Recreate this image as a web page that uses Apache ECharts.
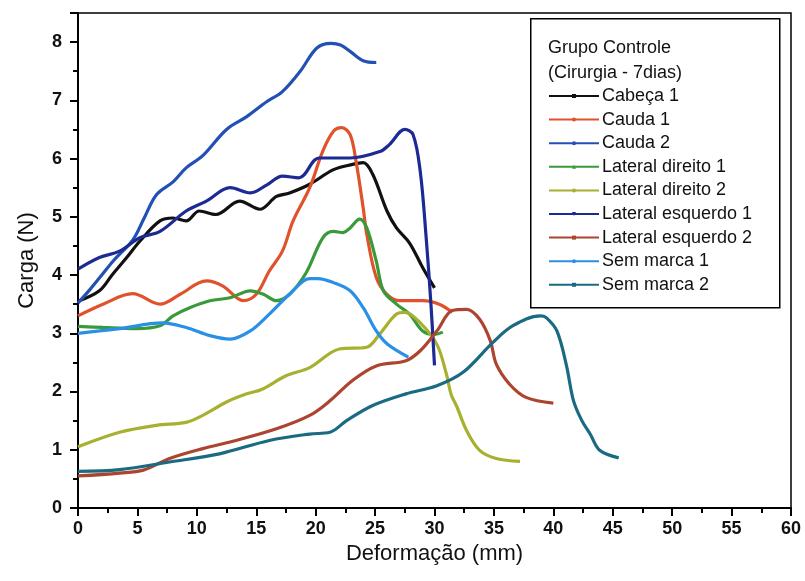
<!DOCTYPE html>
<html>
<head>
<meta charset="utf-8">
<script src="https://cdn.jsdelivr.net/npm/echarts@6/dist/echarts.min.js"></script>
<style>
  html, body { margin: 0; padding: 0; background: #fff; }
  #chart { width: 805px; height: 581px; }
</style>
</head>
<body>
<div id="chart"></div>
<script>
// curves: [deformation (mm), load (N)]
var cabeca1 = [[0,3.55],[1.8,3.73],[2.9,4.01],[4.1,4.3],[5.2,4.58],[6.9,4.93],[8.0,4.98],[9.1,4.93],[10.2,5.1],[11.6,5.04],[13.6,5.27],[15.3,5.13],[16.7,5.35],[17.8,5.41],[19.5,5.56],[21.5,5.81],[23.1,5.9],[24.0,5.93],[24.8,5.73],[26.0,5.1],[26.8,4.81],[27.9,4.55],[29.0,4.13],[30.0,3.78]];
var cauda1 = [[0,3.3],[2.1,3.5],[4.6,3.68],[6.9,3.5],[8.6,3.67],[10.8,3.9],[12.2,3.81],[13.9,3.56],[15.0,3.67],[16.1,4.07],[17.2,4.41],[18.1,4.93],[19.5,5.5],[20.6,6.13],[21.5,6.47],[22.2,6.53],[22.9,6.41],[23.4,5.95],[24.0,5.15],[24.3,4.7],[25.1,3.96],[26.0,3.67],[27.1,3.56],[29.0,3.56],[30.4,3.5],[31.5,3.36]];
var cauda2 = [[0,3.52],[1,3.75],[2,4.0],[3,4.25],[4.6,4.6],[5.5,4.95],[6.6,5.38],[8,5.6],[9.1,5.84],[10.5,6.05],[12.5,6.5],[14.2,6.72],[15.9,6.98],[17.2,7.15],[18.7,7.5],[20.1,7.9],[21.3,7.98],[22.1,7.95],[22.9,7.84],[24,7.68],[25.1,7.65]];
var latDir1 = [[0,3.12],[2.1,3.1],[4.9,3.08],[6.9,3.13],[8.0,3.3],[9.4,3.44],[11.1,3.56],[12.8,3.61],[14.5,3.73],[15.6,3.67],[16.7,3.56],[17.8,3.67],[19.2,4.04],[20.6,4.64],[21.5,4.75],[22.3,4.73],[22.9,4.81],[23.7,4.96],[24.3,4.81],[25.1,4.24],[25.7,3.73],[26.8,3.5],[27.9,3.33],[29.0,3.04],[30.0,2.98],[30.7,3.02]];
var latDir2 = [[0,1.05],[3.5,1.3],[6.6,1.42],[9.1,1.47],[10.5,1.59],[12.5,1.82],[14.2,1.96],[15.5,2.04],[17.5,2.27],[19.5,2.41],[22.0,2.73],[24.3,2.76],[25.4,2.99],[26.8,3.33],[27.5,3.36],[28.8,3.18],[30.2,2.81],[31.0,2.3],[31.4,1.95],[31.9,1.73],[32.7,1.33],[33.8,0.99],[35.2,0.85],[37.2,0.8]];
var latEsq1 = [[0,4.1],[1.8,4.3],[3.5,4.41],[5.2,4.64],[6.9,4.75],[9.1,5.1],[10.8,5.27],[12.8,5.5],[14.5,5.41],[15.9,5.55],[17.2,5.7],[18.6,5.67],[20.3,6.01],[22.9,6.01],[25.4,6.12],[26.2,6.24],[27.5,6.5],[28.2,6.41],[28.8,5.78],[29.3,4.64],[29.7,3.5],[30.0,2.45]];
var latEsq2 = [[0,0.55],[3.5,0.6],[5.5,0.65],[7.7,0.85],[10.5,1.02],[13.3,1.16],[16.7,1.36],[19.5,1.59],[21.2,1.84],[23.1,2.19],[25.1,2.44],[27.6,2.53],[28.8,2.7],[30.2,3.04],[31.5,3.39],[32.7,3.41],[33.8,3.24],[34.7,2.87],[35.2,2.47],[36.3,2.13],[37.7,1.9],[40.0,1.8]];
var semMarca1 = [[0,3.0],[3.5,3.08],[7.1,3.18],[9.1,3.1],[11.1,2.96],[12.8,2.9],[14.5,3.04],[16.1,3.33],[17.8,3.67],[19.5,3.94],[20.2,3.94],[21.5,3.87],[22.9,3.73],[24.0,3.44],[25.1,3.04],[26.0,2.82],[27.8,2.59]];
var semMarca2 = [[0,0.63],[3.5,0.66],[7.7,0.79],[11.9,0.93],[16.1,1.16],[19.5,1.27],[21.2,1.3],[22.6,1.5],[24.8,1.76],[27.6,1.96],[30.2,2.1],[32.4,2.33],[34.9,2.84],[36.6,3.13],[38.9,3.3],[39.4,3.27],[40.3,3.04],[41.1,2.45],[41.7,1.84],[42.4,1.5],[43.1,1.27],[43.9,0.99],[45.5,0.86]];

var seriesNames = ['Cabeça 1', 'Cauda 1', 'Cauda 2', 'Lateral direito 1', 'Lateral direito 2',
                   'Lateral esquerdo 1', 'Lateral esquerdo 2', 'Sem marca 1', 'Sem marca 2'];
var seriesData = [cabeca1, cauda1, cauda2, latDir1, latDir2, latEsq1, latEsq2, semMarca1, semMarca2];
var colors = ['#111111', '#e0522c', '#2350b4', '#3a9a3a', '#a8b030', '#1c2a94', '#ac4430', '#2a90e6', '#1a6a82'];
var symbols = ['rect', 'circle', 'circle', 'triangle', 'circle', 'path://M0,0L10,0L5,10Z', 'rect', 'circle', 'rect'];

var chartDom = document.getElementById('chart');
var myChart = echarts.init(chartDom);

var series = seriesNames.map(function (name, i) {
    return {
        name: name,
        type: 'line',
        data: seriesData[i],
        smooth: 0.35,
        symbol: symbols[i],
        symbolSize: 5,
        showSymbol: false,
        lineStyle: { width: 3.2, color: colors[i] },
        itemStyle: { color: colors[i] },
        emphasis: { disabled: true }
    };
});

var option = {
    animation: false,
    grid: {
        left: 78, right: 14, top: 13, bottom: 73,
        show: true, borderColor: '#000', borderWidth: 1.5
    },
    xAxis: {
        type: 'value',
        min: 0, max: 60, interval: 5,
        name: 'Deformação (mm)',
        nameLocation: 'middle',
        nameGap: 33,
        nameTextStyle: { fontFamily: 'Liberation Sans', fontSize: 22, color: '#111' },
        axisLine: { lineStyle: { color: '#000', width: 2 } },
        axisTick: { length: 8, lineStyle: { color: '#000', width: 2 } },
        minorTick: { show: true, splitNumber: 2, length: 5, lineStyle: { color: '#000', width: 2 } },
        axisLabel: { fontFamily: 'Liberation Sans', fontSize: 18, fontWeight: 'bold', color: '#111', margin: 12 },
        splitLine: { show: false }
    },
    yAxis: {
        type: 'value',
        min: 0, max: 8.5, interval: 1,
        name: 'Carga (N)',
        nameLocation: 'middle',
        nameGap: 40,
        nameTextStyle: { fontFamily: 'Liberation Sans', fontSize: 22, color: '#111' },
        axisLine: { lineStyle: { color: '#000', width: 2 } },
        axisTick: { length: 8, lineStyle: { color: '#000', width: 2 } },
        minorTick: { show: true, splitNumber: 2, length: 5, lineStyle: { color: '#000', width: 2 } },
        axisLabel: {
            fontFamily: 'Liberation Sans', fontSize: 18, fontWeight: 'bold', color: '#111', margin: 16,
            formatter: function (v) { return Number.isInteger(v) ? String(v) : ''; }
        },
        splitLine: { show: false }
    },
    graphic: [
        {
            type: 'rect', left: 530, top: 18, z: 10,
            shape: { width: 249, height: 289 },
            style: { fill: '#fff', stroke: '#000', lineWidth: 1.5 }
        },
        {
            type: 'text', left: 548, top: 39, z: 11,
            style: { text: 'Grupo Controle', fill: '#111', font: '18px "Liberation Sans"' }
        },
        {
            type: 'text', left: 548, top: 64, z: 11,
            style: { text: '(Cirurgia - 7dias)', fill: '#111', font: '18px "Liberation Sans"' }
        }
    ],
    legend: {
        orient: 'vertical',
        left: 548, top: 87,
        z: 20,
        itemWidth: 50, itemHeight: 5,
        itemGap: 5.6,
        padding: 0,
        data: seriesNames,
        textStyle: { fontFamily: 'Liberation Sans', fontSize: 18, lineHeight: 18, color: '#111', padding: [0, 0, 0, -2] },
        selectedMode: false
    },
    series: series
};

option && myChart.setOption(option);
window.addEventListener('resize', function () {
    myChart.resize();
});
</script>
</body>
</html>
